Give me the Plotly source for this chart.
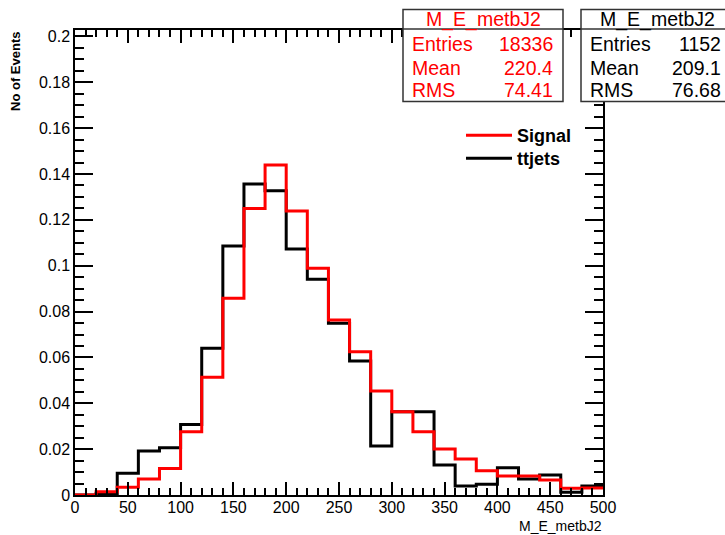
import plotly.graph_objects as go

# ---------------- data ----------------
bin_edges = [0, 20, 40, 60, 80, 100, 120, 140, 160, 180, 200, 220, 240, 260,
             280, 300, 320, 340, 360, 380, 400, 420, 440, 460, 480, 500]
signal = [0.0, 0.0014, 0.0034, 0.0070, 0.0116, 0.0276, 0.0513, 0.0858, 0.1250,
          0.1439, 0.1239, 0.0989, 0.0763, 0.0625, 0.0454, 0.0363, 0.0276, 0.0201,
          0.0157, 0.0106, 0.0083, 0.0083, 0.0065, 0.0029, 0.0031]
ttjets = [0.0, 0.0005, 0.0095, 0.0192, 0.0206, 0.0308, 0.0640, 0.1086, 0.1356,
          0.1327, 0.1073, 0.0941, 0.0749, 0.0584, 0.0214, 0.0363, 0.0363, 0.0131,
          0.0039, 0.0047, 0.0119, 0.0070, 0.0087, 0.0012, 0.0039]

stat_names = ["Entries", "Mean", "RMS"]
signal_stats = ["18336", "220.4", "74.41"]
ttjets_stats = ["1152", "209.1", "76.68"]
hist_name = "M_E_metbJ2"

# ---------------- geometry helpers ----------------
W, H = 725, 535
L, R, T, B = 75, 603, 30, 495


def px(x):
    return (x - L) / (R - L)


def py(y):
    return (B - y) / (B - T)


FONT = "Liberation Sans, Arial, sans-serif"

fig = go.Figure()


def step(values):
    return list(bin_edges), list(values) + [values[-1]]


xb, yb = step(ttjets)
fig.add_trace(go.Scatter(x=xb, y=yb, mode="lines", line=dict(color="black", width=3, shape="hv"),
                         name="<b>ttjets</b>", legend="legend2"))
xs, ys = step(signal)
fig.add_trace(go.Scatter(x=xs, y=ys, mode="lines", line=dict(color="#ff0000", width=3, shape="hv"),
                         name="<b>Signal</b>", legend="legend"))

fig.update_xaxes(range=[0, 500], tick0=0, dtick=50, ticks="inside", ticklen=13, tickwidth=1.5,
                 minor=dict(dtick=10, ticks="inside", ticklen=7, tickwidth=1.5, tickcolor="black"),
                 showline=True, mirror="allticks", linecolor="black", linewidth=1.5,
                 tickcolor="black", showgrid=False, zeroline=False, ticklabelstandoff=-3,
                 tickfont=dict(family=FONT, size=16, color="black"))
fig.update_yaxes(range=[0, 0.2028], tick0=0, dtick=0.02, ticks="inside", ticklen=18, tickwidth=1.5,
                 minor=dict(dtick=0.005, ticks="inside", ticklen=9, tickwidth=1.5, tickcolor="black"),
                 showline=True, mirror="allticks", linecolor="black", linewidth=1.5,
                 tickcolor="black", showgrid=False, zeroline=False,
                 tickfont=dict(family=FONT, size=16, color="black"))

shapes = []
annotations = []
SFONT = 19.5


def stats_box(x0, x1, color, values):
    shapes.append(dict(type="rect", xref="paper", yref="paper", x0=px(x0), x1=px(x1),
                       y0=py(101.5), y1=py(9.5), line=dict(color="#333333", width=1.5),
                       fillcolor="white", layer="above"))
    shapes.append(dict(type="line", xref="paper", yref="paper", x0=px(x0), x1=px(x1),
                       y0=py(29), y1=py(29), line=dict(color="#333333", width=1.5), layer="above"))
    annotations.append(dict(xref="paper", yref="paper", x=px((x0 + x1) / 2), y=py(19.5),
                            text=hist_name, showarrow=False, xanchor="center", yanchor="middle",
                            font=dict(family=FONT, size=SFONT, color=color)))
    rows_y = [44, 67.5, 90]
    for name, val, yy in zip(stat_names, values, rows_y):
        annotations.append(dict(xref="paper", yref="paper", x=px(x0 + 7), y=py(yy), text=name,
                                showarrow=False, xanchor="left", yanchor="middle",
                                font=dict(family=FONT, size=SFONT, color=color)))
        annotations.append(dict(xref="paper", yref="paper", x=px(x1 - 8 if x1 < 725 else 723),
                                y=py(yy), text=val, showarrow=False, xanchor="right",
                                yanchor="middle", font=dict(family=FONT, size=SFONT, color=color)))


stats_box(403, 563, "#ff0000", signal_stats)
stats_box(581, 734, "black", ttjets_stats)

annotations.append(dict(xref="paper", yref="paper", x=px(15), y=py(72), text="<b>No of Events</b>",
                        textangle=-90, showarrow=False, xanchor="center", yanchor="middle",
                        font=dict(family=FONT, size=13, color="black")))
annotations.append(dict(xref="paper", yref="paper", x=px(604), y=py(526), text=hist_name,
                        showarrow=False, xanchor="right", yanchor="middle",
                        font=dict(family=FONT, size=14, color="black")))

leg_common = dict(xanchor="left", yanchor="top", bgcolor="rgba(0,0,0,0)", borderwidth=0,
                  itemwidth=46, font=dict(family=FONT, size=18, color="black"))

fig.update_layout(
    width=W, height=H,
    margin=dict(l=L, r=W - R, t=T, b=H - B, pad=0),
    paper_bgcolor="white", plot_bgcolor="white",
    showlegend=True,
    legend=dict(x=px(461), y=py(117), **leg_common),
    legend2=dict(x=px(461), y=py(140), **leg_common),
    shapes=shapes, annotations=annotations,
)

fig.write_html("out.html")
